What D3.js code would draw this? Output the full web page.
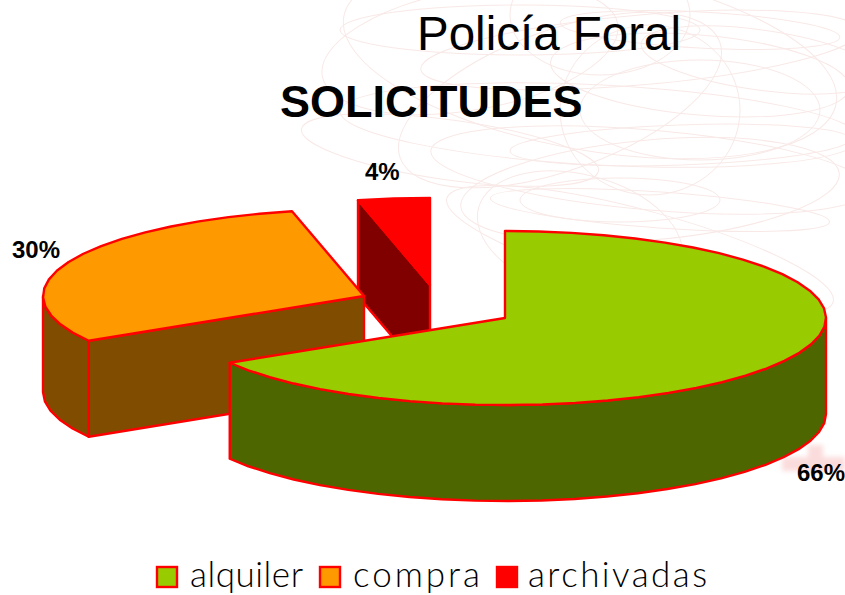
<!DOCTYPE html>
<html><head><meta charset="utf-8">
<script src="https://cdnjs.cloudflare.com/ajax/libs/d3/7.8.5/d3.min.js"></script>
<style>html,body{margin:0;padding:0;background:#fff;overflow:hidden}svg{display:block}</style>
</head><body><svg id="c" width="845" height="595"></svg>
<script>
const categories = ["alquiler", "compra", "archivadas"];
const values = [66.4, 30.0, 3.6];
const topColors = ["#99CC00", "#FF9900", "#FF0000"];
const sideColors = ["#4D6600", "#804D00", "#800000"];
const centers = [[505, 318], [364, 296], [430, 285]];
const labelPos = [[797, 481], [12, 258], [365, 180]];
const legendSwatchX = [157, 320, 497];
const legendTextX = [190, 353, 528];
const legendTextW = [113, 127, 179];
const swirls = [[520,30,180,25,0],[640,50,220,35,-5],[700,75,150,40,5],[600,125,260,40,3],[700,110,120,50,0],
  [650,170,220,40,5],[620,200,100,22,0],[650,190,190,50,-5],[560,100,170,70,-20],[590,60,250,90,10],
  [650,110,90,85,0],[580,235,105,60,15],[760,60,120,30,8],[470,50,150,60,-10],
  [600,15,90,60,0],[640,250,200,40,15],[450,150,150,30,8],[700,30,140,18,3],[680,145,170,20,-2],[660,210,170,18,4]];

const rx = 321, ry = 87, depth = 96, step = 6 * Math.PI / 180;
const svg = d3.select("#c");
const sx = d3.scaleLinear().domain([-1, 1]).range([-rx, rx]);
const sy = d3.scaleLinear().domain([-1, 1]).range([ry, -ry]);
const pie = d3.pie().sort(null)(values);
const line = d3.line();

const bg = svg.append("g").attr("fill", "none").attr("stroke", "#f8e9e7").attr("stroke-width", 1);
swirls.forEach(s => bg.append("ellipse").attr("rx", s[2]).attr("ry", s[3])
  .attr("transform", `translate(${s[0]},${s[1]}) rotate(${s[4]})`));
const defs = svg.append("defs");
defs.append("filter").attr("id", "b").append("feGaussianBlur").attr("stdDeviation", 2.5);
const cross = svg.append("g").attr("fill", "#fbdcdc").attr("filter", "url(#b)");
cross.append("rect").attr("x", 808).attr("y", 445).attr("width", 15).attr("height", 28);
cross.append("rect").attr("x", 782).attr("y", 457).attr("width", 63).attr("height", 14);

function rim(c, a0, a1) {
  const n = Math.max(1, Math.round((a1 - a0) / step));
  return d3.range(n + 1).map(i => {
    const a = a0 + (a1 - a0) * i / n;
    return [c[0] + sx(Math.sin(a)), c[1] + sy(Math.cos(a))];
  });
}
const down = p => [p[0], p[1] + depth];
const style = (s, fill) => s.attr("fill", fill).attr("stroke", "#FF0000")
  .attr("stroke-width", 2.4).attr("stroke-linejoin", "round");

[2, 1, 0].forEach(i => {
  const d = pie[i], c = centers[i], g = svg.append("g");
  const arc = rim(c, d.startAngle, d.endAngle);
  if (i > 0) {
    const p = arc[0];
    style(g.append("path").attr("d", line([c, p, down(p), down(c)]) + "Z"), sideColors[i]);
  }
  const f0 = Math.max(d.startAngle, Math.PI / 2), f1 = Math.min(d.endAngle, 3 * Math.PI / 2);
  if (f1 > f0) {
    const w = rim(c, f0, f1);
    style(g.append("path").attr("d", line(w.concat(w.slice().reverse().map(down))) + "Z"), sideColors[i]);
  }
  style(g.append("path").attr("d", line([c].concat(arc)) + "Z"), topColors[i]);
});

svg.append("text").text("Policía Foral").attr("x", 417).attr("y", 50)
  .attr("font-family", "Liberation Sans").attr("font-size", 47.5).attr("fill", "#000");
svg.append("text").text("SOLICITUDES").attr("x", 280).attr("y", 117)
  .attr("font-family", "Liberation Sans").attr("font-weight", "bold").attr("font-size", 45).attr("fill", "#000");

categories.forEach((cat, i) => {
  svg.append("text").text(d3.format(".0f")(values[i]) + "%")
    .attr("x", labelPos[i][0]).attr("y", labelPos[i][1])
    .attr("font-family", "Liberation Sans").attr("font-weight", "bold").attr("font-size", 24).attr("fill", "#000");
  svg.append("rect").attr("x", legendSwatchX[i]).attr("y", 567).attr("width", 20).attr("height", 20)
    .attr("fill", topColors[i]).attr("stroke", "#FF0000").attr("stroke-width", 2.4);
  svg.append("text").text(cat).attr("x", legendTextX[i]).attr("y", 587)
    .attr("textLength", legendTextW[i]).attr("lengthAdjust", "spacing")
    .attr("font-family", "Lato").attr("font-weight", 300).attr("font-size", 35).attr("fill", "#000");
});
</script></body></html>
